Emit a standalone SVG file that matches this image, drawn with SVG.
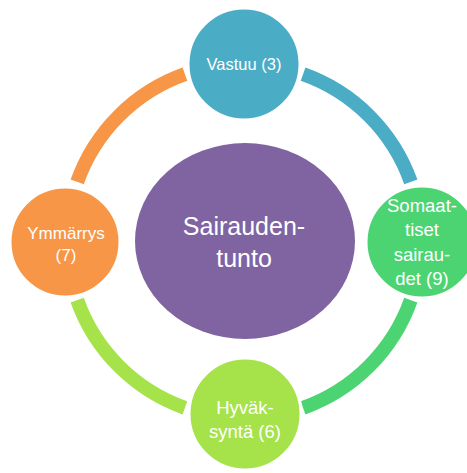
<svg xmlns="http://www.w3.org/2000/svg" width="467" height="473" viewBox="0 0 467 473">
  <style>
    .ring { fill: none; stroke-width: 14; stroke-linecap: butt; }
    .sat { stroke: #ffffff; stroke-width: 3; }
    .lbl { fill: #ffffff; font-family: "Liberation Sans", Arial, sans-serif; text-anchor: middle; }
  </style>
  <rect width="467" height="473" fill="#ffffff"/>

  <!-- ring segments between the satellite nodes -->
  <g id="connectors">
    <path class="ring" stroke="#4BACC6" d="M 303.1 74.2 A 177 177 0 0 1 410.8 181.9"/>
    <path class="ring" stroke="#4CD472" d="M 410.8 300.1 A 177 177 0 0 1 303.1 407.8"/>
    <path class="ring" stroke="#A6E24A" d="M 184.9 407.8 A 177 177 0 0 1 77.2 300.1"/>
    <path class="ring" stroke="#F79646" d="M 77.2 181.9 A 177 177 0 0 1 184.9 74.2"/>
  </g>

  <!-- central node -->
  <g id="center">
    <ellipse cx="245" cy="241" rx="110" ry="98" fill="#8064A2"/>
    <text class="lbl" font-size="25" x="244" y="235">Sairauden-</text>
    <text class="lbl" font-size="25" x="244" y="267">tunto</text>
  </g>

  <g id="vastuu">
    <circle class="sat" cx="244" cy="64" r="56" fill="#4BACC6"/>
    <text class="lbl" font-size="16.5" x="244" y="70">Vastuu (3)</text>
  </g>

  <g id="somaattiset">
    <circle class="sat" cx="422" cy="242" r="56" fill="#4CD472"/>
    <text class="lbl" font-size="18.5" x="422" y="212">Somaat-</text>
    <text class="lbl" font-size="18.5" x="422" y="236">tiset</text>
    <text class="lbl" font-size="18.5" x="422" y="261">sairau-</text>
    <text class="lbl" font-size="18.5" x="422" y="285">det (9)</text>
  </g>

  <g id="hyvaksynta">
    <circle class="sat" cx="245" cy="414" r="56" fill="#A6E24A"/>
    <text class="lbl" font-size="18.5" x="245" y="414">Hyväk-</text>
    <text class="lbl" font-size="18.5" x="245" y="438">syntä (6)</text>
  </g>

  <g id="ymmarrys">
    <circle class="sat" cx="65" cy="242" r="55" fill="#F79646"/>
    <text class="lbl" font-size="17" x="66" y="239">Ymmärrys</text>
    <text class="lbl" font-size="17" x="66" y="261">(7)</text>
  </g>
</svg>
